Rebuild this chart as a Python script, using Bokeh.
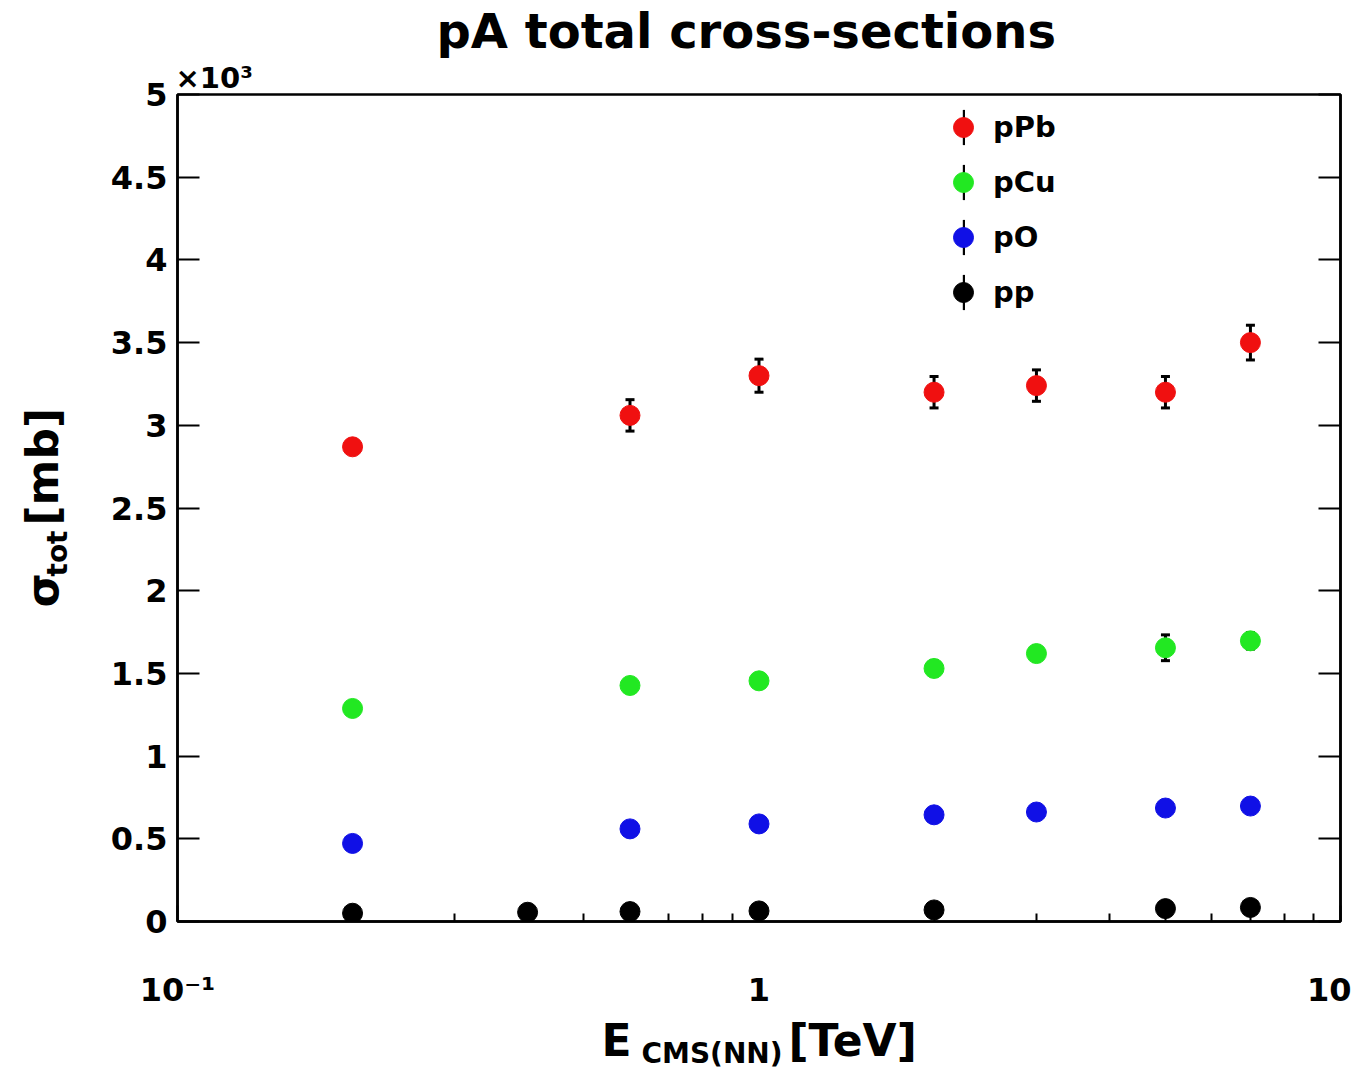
import math
from bokeh.plotting import figure
from bokeh.layouts import column, row
from bokeh.models import (ColumnDataSource, Range1d, FixedTicker, LinearAxis, Label, Title,
                          Legend, LegendItem, Whisker, TeeHead)
from bokeh.embed import file_html
from bokeh.resources import INLINE

# ---------------- data ----------------
title_text = "pA total cross-sections"
x_title_main = "E"
x_title_sub = "CMS(NN)"
x_title_unit = "[TeV]"
y_title_main = "σ"
y_title_sub = "tot"
y_title_unit = "[mb]"
y_multiplier = "×10³"

x_ticks = [0.1, 1, 10]
x_tick_labels = ["10⁻¹", "1", "10"]
x_minor_ticks = [0.2, 0.3, 0.4, 0.5, 0.6, 0.7, 0.8, 0.9, 2, 3, 4, 5, 6, 7, 8, 9]
y_ticks = [0, 500, 1000, 1500, 2000, 2500, 3000, 3500, 4000, 4500, 5000]
y_tick_labels = ["0", "0.5", "1", "1.5", "2", "2.5", "3", "3.5", "4", "4.5", "5"]

series_names = ["pPb", "pCu", "pO", "pp"]
series_colors = ["#f01010", "#22e822", "#1010e6", "#000000"]

energy_pA = [0.2, 0.6, 1, 2, 3, 5, 7]
energy_pp = [0.2, 0.4, 0.6, 1, 2, 5, 7]

sigma_pPb = [2870, 3060, 3300, 3200, 3240, 3200, 3500]
err_pPb = [0, 95, 100, 95, 95, 95, 105]
sigma_pCu = [1288, 1427, 1455, 1530, 1620, 1655, 1697]
err_pCu = [35, 40, 40, 45, 45, 78, 50]
sigma_pO = [472, 560, 590, 645, 662, 686, 698]
err_pO = [15, 17, 18, 20, 20, 21, 21]
sigma_pp = [50, 56, 60, 64, 70, 78, 85]
err_pp = [2, 2, 2, 2, 2, 2, 2]

series_x = [energy_pA, energy_pA, energy_pA, energy_pp]
series_y = [sigma_pPb, sigma_pCu, sigma_pO, sigma_pp]
series_err = [err_pPb, err_pCu, err_pO, err_pp]

FONT = "DejaVu Sans"

TOTAL_W, TOTAL_H = 1351, 1070
LEFT_W = 100          # strip holding the y title
MAIN_H = 1012         # main figure height; the x title strip sits below
FRAME_BOTTOM = 921    # screen y of the main frame's bottom edge (= 1012 - 91)

# ---------------- main figure ----------------
p = figure(width=TOTAL_W - LEFT_W, height=MAIN_H, x_axis_type="log", title=None,
           x_range=Range1d(0.1, 10), y_range=Range1d(0, 5000),
           output_backend="svg", toolbar_location=None,
           min_border_left=77, min_border_right=11,
           min_border_top=94, min_border_bottom=91)
p.xgrid.visible = False
p.ygrid.visible = False
p.outline_line_color = "black"
p.outline_line_width = 2.5
p.background_fill_color = "white"
p.border_fill_color = "white"

# x axis
xa = p.xaxis[0]
xa.ticker = FixedTicker(ticks=x_ticks, minor_ticks=x_minor_ticks)
xa.major_label_overrides = {t: l for t, l in zip(x_ticks, x_tick_labels)}
xa.major_tick_in = 16
xa.major_tick_out = 0
xa.minor_tick_in = 8
xa.minor_tick_out = 0
xa.major_tick_line_width = 2
xa.minor_tick_line_width = 2
xa.axis_line_width = 2.5
xa.major_label_standoff = 49
xa.major_label_text_font = FONT
xa.major_label_text_font_style = "bold"
xa.major_label_text_font_size = "32px"
xa.major_label_text_color = "black"

# y axis (left)
ya = p.yaxis[0]
ya.ticker = FixedTicker(ticks=y_ticks)
ya.major_label_overrides = {t: l for t, l in zip(y_ticks, y_tick_labels)}
ya.major_tick_in = 22
ya.major_tick_out = 0
ya.minor_tick_line_color = None
ya.major_tick_line_width = 2
ya.axis_line_width = 2.5
ya.major_label_standoff = 10
ya.major_label_text_font = FONT
ya.major_label_text_font_style = "bold"
ya.major_label_text_font_size = "32px"
ya.major_label_text_color = "black"

# right axis (ticks only)
yr = LinearAxis(ticker=FixedTicker(ticks=y_ticks),
                major_label_overrides={t: "" for t in y_ticks},
                major_tick_in=22, major_tick_out=0, minor_tick_line_color=None,
                major_tick_line_width=2, axis_line_width=2.5, major_label_standoff=0)
p.add_layout(yr, "right")

# titles above the frame (first one is nearest to the frame)
p.add_layout(Title(text=y_multiplier, align="left", offset=-2, standoff=0,
                   vertical_align="bottom", text_font=FONT, text_font_style="bold",
                   text_font_size="29px", text_color="black"), "above")
p.add_layout(Title(text=title_text, align="left", offset=259, standoff=0,
                   vertical_align="bottom", text_font=FONT, text_font_style="bold",
                   text_font_size="48px", text_color="black"), "above")

# ---------------- data marks ----------------
err_renderers = []
pt_renderers = []
for name, col, xs, ys, es in zip(series_names, series_colors, series_x, series_y, series_err):
    src = ColumnDataSource(dict(
        x=xs, y=ys,
        upper=[v + e for v, e in zip(ys, es)],
        lower=[v - e for v, e in zip(ys, es)],
        h=[2 * e for e in es],
    ))
    r_err = p.rect(x="x", y="y", width=3, height="h", width_units="screen",
                   source=src, fill_color="black", line_color=None)
    w = Whisker(base="x", upper="upper", lower="lower", source=src, dimension="height",
                line_alpha=0, level="underlay",
                upper_head=TeeHead(size=9, line_width=3, line_color="black"),
                lower_head=TeeHead(size=9, line_width=3, line_color="black"))
    p.add_layout(w)
    err_renderers.append(r_err)

for name, col, xs, ys in zip(series_names, series_colors, series_x, series_y):
    src = ColumnDataSource(dict(x=xs, y=ys))
    r = p.scatter(x="x", y="y", source=src, size=20, marker="circle",
                  fill_color=col, line_color=col)
    pt_renderers.append(r)

# ---------------- legends (error-bar line under, marker on top) ----------------
leg_err = Legend(items=[LegendItem(label=" ", renderers=[r]) for r in err_renderers],
                 location=(784.5, 607), orientation="vertical",
                 glyph_width=3, glyph_height=44, spacing=11, padding=0, margin=0,
                 label_standoff=0, label_width=0, label_height=0,
                 label_text_font_size="1px",
                 background_fill_alpha=0, border_line_alpha=0)
leg_pts = Legend(items=[LegendItem(label=n, renderers=[r]) for n, r in zip(series_names, pt_renderers)],
                 location=(761, 604), orientation="vertical",
                 glyph_width=50, glyph_height=50, spacing=5, padding=0, margin=0,
                 label_standoff=5,
                 label_text_font=FONT, label_text_font_style="bold",
                 label_text_font_size="29px", label_text_color="black",
                 background_fill_alpha=0, border_line_alpha=0)
p.add_layout(leg_err)
p.add_layout(leg_pts)


# ---------------- text strips for the axis titles ----------------
def strip(w, h):
    f = figure(width=w, height=h, x_range=Range1d(0, 1), y_range=Range1d(0, 1),
               title=None, min_border=0, toolbar_location=None, output_backend="svg",
               x_axis_location=None, y_axis_location=None)
    f.outline_line_color = None
    f.xgrid.visible = False
    f.ygrid.visible = False
    f.background_fill_color = "white"
    f.border_fill_color = "white"
    return f


def lab(fig, x, y, text, size, angle=0.0):
    fig.add_layout(Label(x=x, y=y, x_units="screen", y_units="screen", text=text,
                         angle=angle, text_align="left", text_baseline="bottom",
                         text_font=FONT, text_font_style="bold",
                         text_font_size=f"{size}px", text_color="black"))


# y title (rotated; the strip's frame lines up with the main frame vertically)
left = strip(LEFT_W, MAIN_H)
lab(left, 67, FRAME_BOTTOM - 607, y_title_main, 44, angle=math.pi / 2)
lab(left, 73, FRAME_BOTTOM - 576, y_title_sub, 28, angle=math.pi / 2)
lab(left, 67, FRAME_BOTTOM - 525, y_title_unit, 44, angle=math.pi / 2)

# x title
bottom = strip(TOTAL_W, TOTAL_H - MAIN_H)
lab(bottom, 601, 5, x_title_main, 44)
lab(bottom, 641, 1, x_title_sub, 28)
lab(bottom, 788, 5, x_title_unit, 44)

layout = column(row(left, p), bottom)

open("out.html", "w").write(file_html(layout, INLINE))
